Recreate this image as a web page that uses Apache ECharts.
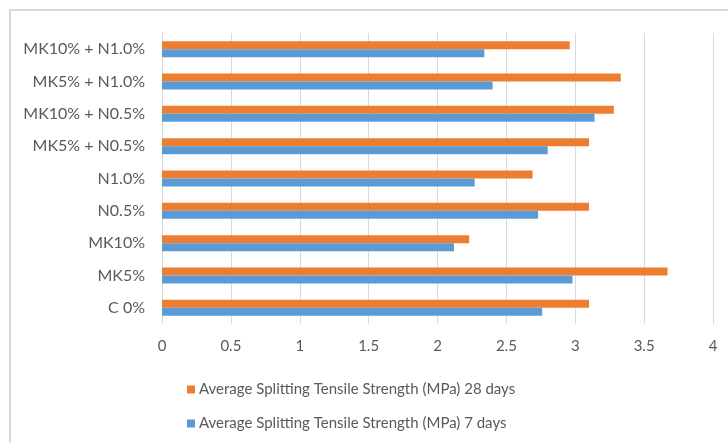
<!DOCTYPE html>
<html>
<head>
<meta charset="utf-8">
<script src="https://cdn.jsdelivr.net/npm/echarts@6/dist/echarts.min.js"></script>
<style>
  html, body { margin: 0; padding: 0; background: #ffffff; }
  #chart { width: 728px; height: 443px; }
</style>
</head>
<body>
<div id="chart"></div>
<script>
// Mix designs, listed bottom to top along the category axis
const categories = [
  'C 0%', 'MK5%', 'MK10%', 'N0.5%', 'N1.0%',
  'MK5% + N0.5%', 'MK10% + N0.5%', 'MK5% + N1.0%', 'MK10% + N1.0%'
];
// Average splitting tensile strength (MPa)
const strength7Days  = [2.76, 2.98, 2.12, 2.73, 2.27, 2.80, 3.14, 2.40, 2.34];
const strength28Days = [3.10, 3.67, 2.23, 3.10, 2.69, 3.10, 3.28, 3.33, 2.96];

const name28 = 'Average Splitting Tensile Strength (MPa) 28 days';
const name7  = 'Average Splitting Tensile Strength (MPa) 7 days';

const axisTicks = { min: 0, max: 4, interval: 0.5 };

const textColor = '#595959';
const gridColor = '#d9d9d9';
const fontFamily = 'Lato, "Liberation Sans", sans-serif';

const chart = echarts.init(document.getElementById('chart'));
chart.setOption({
  backgroundColor: '#ffffff',
  animation: false,
  textStyle: { fontFamily: fontFamily },
  grid: { left: 162, right: 15, top: 33, bottom: 119, containLabel: false },
  xAxis: {
    type: 'value',
    min: axisTicks.min,
    max: axisTicks.max,
    interval: axisTicks.interval,
    axisLine: { show: false },
    axisTick: { show: false },
    axisLabel: { color: textColor, fontSize: 15, margin: 15, fontFamily: fontFamily },
    splitLine: { show: true, lineStyle: { color: gridColor, width: 1 } }
  },
  yAxis: {
    type: 'category',
    data: categories,
    axisLine: { show: false },
    axisTick: { show: false },
    axisLabel: { color: textColor, fontSize: 16, margin: 17, fontFamily: fontFamily },
    splitLine: { show: false }
  },
  legend: {
    orient: 'vertical',
    left: 182,
    top: 377,
    itemWidth: 8,
    itemHeight: 8,
    itemGap: 19,
    icon: 'rect',
    data: [name28, name7],
    textStyle: { color: textColor, fontSize: 15, fontFamily: fontFamily, padding: [0, 0, 0, -1] }
  },
  series: [
    {
      name: name28,
      type: 'bar',
      data: strength28Days,
      barWidth: 8,
      barGap: '0%',
      itemStyle: { color: '#ED7D31' }
    },
    {
      name: name7,
      type: 'bar',
      data: strength7Days,
      barWidth: 8,
      barGap: '0%',
      itemStyle: { color: '#5B9BD5' }
    }
  ],
  graphic: [
    // chart frame: top and left edges
    { type: 'line', shape: { x1: 9, y1: 10, x2: 728, y2: 10 }, style: { stroke: gridColor, lineWidth: 2 } },
    { type: 'line', shape: { x1: 10, y1: 10, x2: 10, y2: 443 }, style: { stroke: gridColor, lineWidth: 2 } }
  ]
});
</script>
</body>
</html>
